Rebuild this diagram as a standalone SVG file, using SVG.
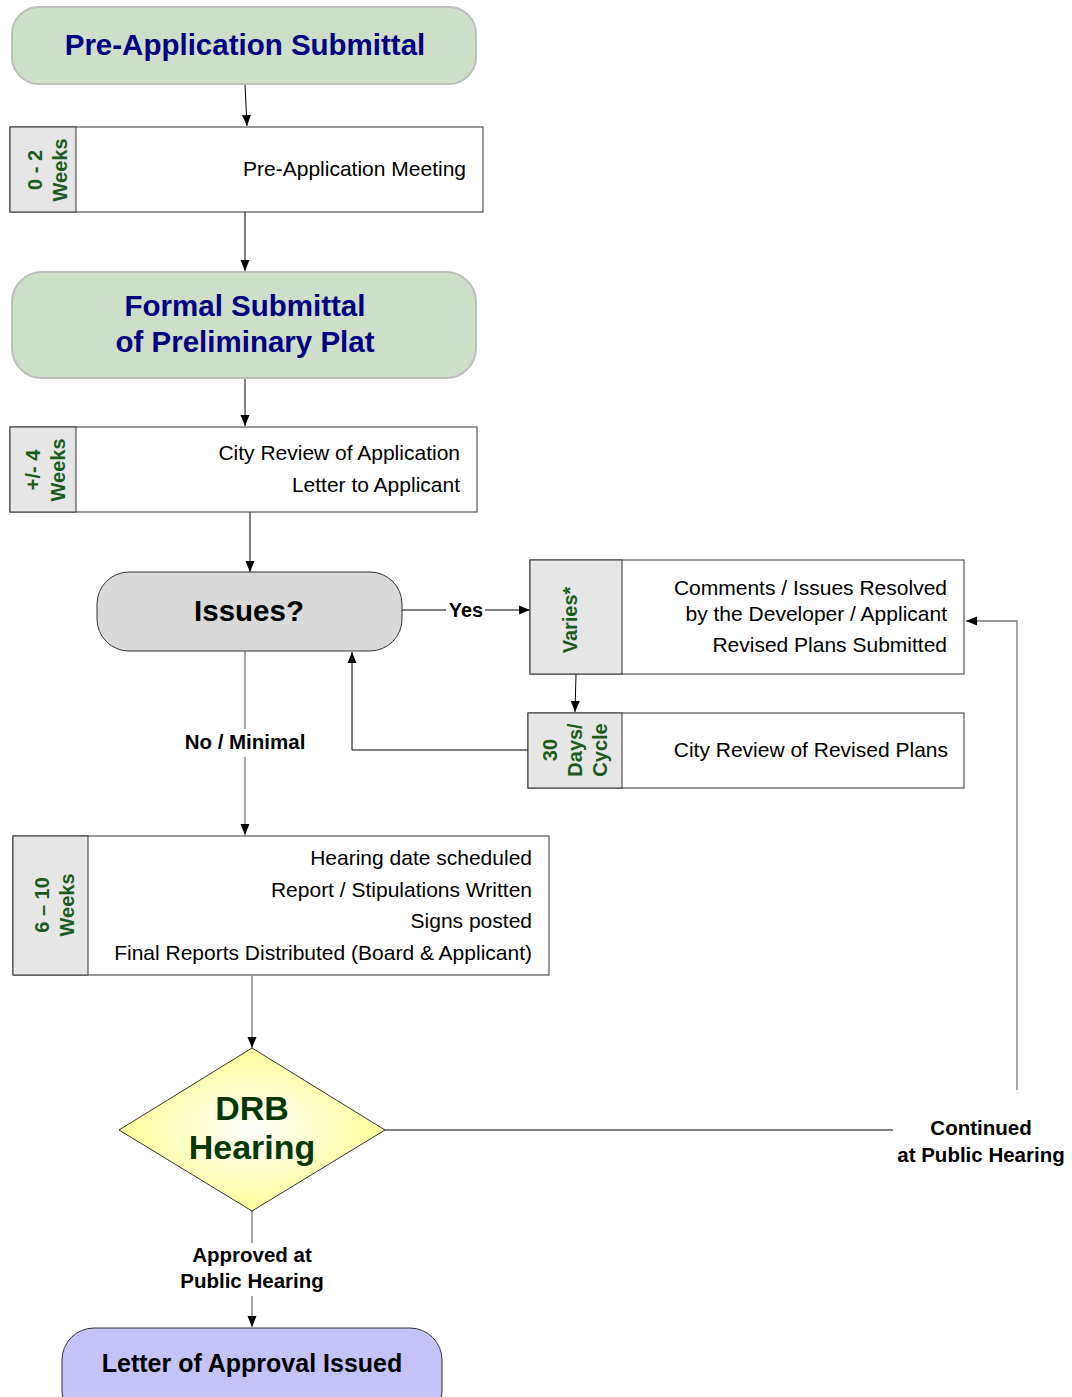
<svg xmlns="http://www.w3.org/2000/svg" width="1072" height="1397" viewBox="0 0 1072 1397">
<style>
.green{fill:#cddfc9;stroke:#bdbdbd;stroke-width:2}
.box{fill:#ffffff;stroke:#333333;stroke-width:1}
.panel{fill:#e6e6e6;stroke:#333333;stroke-width:1}
.ttl{font-family:"Liberation Sans",Arial,sans-serif;font-weight:bold;font-size:29.5px;fill:#000080;text-anchor:middle}
.txt{font-family:"Liberation Sans",Arial,sans-serif;font-size:21px;fill:#000000;text-anchor:end}
.side{font-family:"Liberation Sans",Arial,sans-serif;font-weight:bold;font-size:20px;fill:#1a5c1a;text-anchor:middle}
.lbl{font-family:"Liberation Sans",Arial,sans-serif;font-weight:bold;font-size:20.5px;fill:#000000;text-anchor:middle}
.ln{fill:none;stroke:#000000;stroke-width:1}
.gl{fill:none;stroke:#777777;stroke-width:1.3}
</style>
<defs>
<marker id="arr" markerUnits="userSpaceOnUse" markerWidth="12" markerHeight="12" viewBox="0 0 12 12" refX="11" refY="6" orient="auto">
<path d="M0,1.5 L11,6 L0,10.5 Z" fill="#000000"/>
</marker>
<radialGradient id="yel" cx="0.5" cy="0.5" r="0.5">
<stop offset="0" stop-color="#ffffff"/>
<stop offset="1" stop-color="#ffff99"/>
</radialGradient>
</defs>

<g id="connectors">
<path class="ln" d="M245,85 L247,126" marker-end="url(#arr)"/>
<path class="ln" d="M245,212 L245,271" marker-end="url(#arr)"/>
<path class="ln" d="M245,378 L245,426" marker-end="url(#arr)"/>
<path class="ln" d="M250,512 L250,572" marker-end="url(#arr)"/>
<path class="ln" d="M402,610 L446,610"/>
<path class="ln" d="M485,610 L530,610" marker-end="url(#arr)"/>
<path class="ln" d="M576,674 L575,712" marker-end="url(#arr)"/>
<path class="ln" d="M528,750 L352,750 L352,652" marker-end="url(#arr)"/>
<path class="gl" d="M245,651 L245,729"/>
<path class="gl" d="M245,757 L245,835" marker-end="url(#arr)"/>
<path class="gl" d="M252,976 L252,1048" marker-end="url(#arr)"/>
<path class="ln" d="M385,1130 L893,1130"/>
<path class="gl" d="M1017,1090 L1017,621 L966,621" marker-end="url(#arr)"/>
<path class="gl" d="M252,1211 L252,1243"/>
<path class="gl" d="M252,1296 L252,1327" marker-end="url(#arr)"/>
<text class="lbl" x="466" y="617" style="font-size:20px">Yes</text>
<text class="lbl" x="245" y="749">No / Minimal</text>
<text class="lbl" x="981" y="1135">Continued</text>
<text class="lbl" x="981" y="1162">at Public Hearing</text>
<text class="lbl" x="252" y="1262">Approved at</text>
<text class="lbl" x="252" y="1288">Public Hearing</text>
</g>

<g id="pre-application-submittal">
<rect class="green" x="12" y="7" width="464" height="77" rx="27" ry="27"/>
<text class="ttl" x="245" y="55">Pre-Application Submittal</text>
</g>

<g id="pre-application-meeting">
<rect class="box" x="10" y="127" width="473" height="85"/>
<rect class="panel" x="10" y="127" width="66" height="85"/>
<text class="side" transform="translate(42,170) rotate(-90)">0 - 2</text>
<text class="side" transform="translate(67,170) rotate(-90)">Weeks</text>
<text class="txt" x="466" y="176">Pre-Application Meeting</text>
</g>

<g id="formal-submittal">
<rect class="green" x="12" y="272" width="464" height="106" rx="30" ry="30"/>
<text class="ttl" x="245" y="316">Formal Submittal</text>
<text class="ttl" x="245" y="352">of Preliminary Plat</text>
</g>

<g id="city-review">
<rect class="box" x="10" y="427" width="467" height="85"/>
<rect class="panel" x="10" y="427" width="66" height="85"/>
<text class="side" transform="translate(40,470) rotate(-90)">+/- 4</text>
<text class="side" transform="translate(65,470) rotate(-90)">Weeks</text>
<text class="txt" x="460" y="460">City Review of Application</text>
<text class="txt" x="460" y="492">Letter to Applicant</text>
</g>

<g id="issues">
<rect x="97" y="572" width="305" height="79" rx="32" ry="32" fill="#d9d9d9" stroke="#333333" stroke-width="1"/>
<text class="ttl" x="249" y="621" style="fill:#000000">Issues?</text>
</g>

<g id="comments-resolved">
<rect class="box" x="530" y="560" width="434" height="114"/>
<rect class="panel" x="530" y="560" width="92" height="114"/>
<text class="side" transform="translate(577,620) rotate(-90)">Varies*</text>
<text class="txt" x="947" y="595">Comments / Issues Resolved</text>
<text class="txt" x="947" y="621">by the Developer / Applicant</text>
<text class="txt" x="947" y="652">Revised Plans Submitted</text>
</g>

<g id="city-review-revised">
<rect class="box" x="528" y="713" width="436" height="75"/>
<rect class="panel" x="528" y="713" width="94" height="75"/>
<text class="side" transform="translate(557,750) rotate(-90)">30</text>
<text class="side" transform="translate(582,750) rotate(-90)">Days/</text>
<text class="side" transform="translate(607,750) rotate(-90)">Cycle</text>
<text class="txt" x="948" y="757">City Review of Revised Plans</text>
</g>

<g id="hearing-scheduled">
<rect class="box" x="13" y="836" width="536" height="139"/>
<rect class="panel" x="13" y="836" width="75" height="139"/>
<text class="side" transform="translate(49,905) rotate(-90)">6 – 10</text>
<text class="side" transform="translate(74,905) rotate(-90)">Weeks</text>
<text class="txt" x="532" y="865">Hearing date scheduled</text>
<text class="txt" x="532" y="897">Report / Stipulations Written</text>
<text class="txt" x="532" y="928">Signs posted</text>
<text class="txt" x="532" y="960">Final Reports Distributed (Board &amp; Applicant)</text>
</g>

<g id="drb-hearing">
<polygon points="252,1048 385,1130 252,1211 119,1130" fill="url(#yel)" stroke="#333333" stroke-width="1"/>
<text class="ttl" x="252" y="1120" style="fill:#063806;font-size:34px">DRB</text>
<text class="ttl" x="252" y="1159" style="fill:#063806;font-size:34px">Hearing</text>
</g>

<g id="letter-of-approval">
<rect x="62" y="1328" width="380" height="95" rx="32" ry="32" fill="#c3c3f7" stroke="#333333" stroke-width="1"/>
<text class="ttl" x="252" y="1372" style="fill:#000000;font-size:25px">Letter of Approval Issued</text>
</g>
</svg>
